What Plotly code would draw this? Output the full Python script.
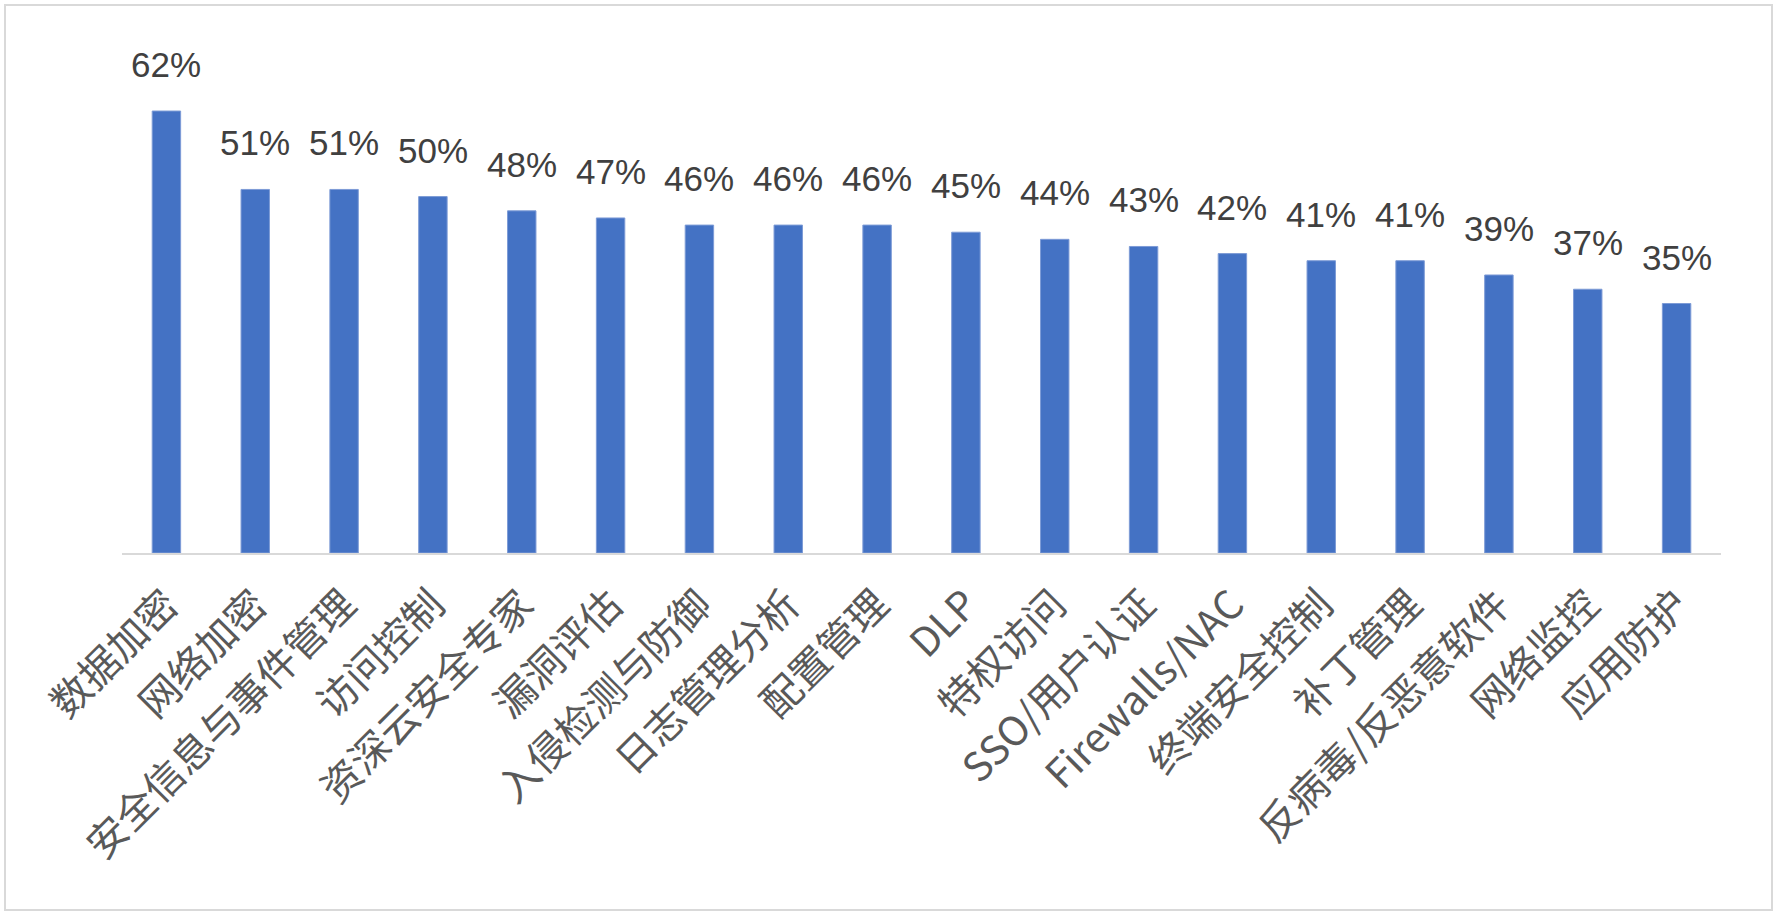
import plotly.graph_objects as go

categories = ["数据加密", "网络加密", "安全信息与事件管理", "访问控制", "资深云安全专家",
              "漏洞评估", "入侵检测与防御", "日志管理分析", "配置管理", "DLP", "特权访问",
              "SSO/用户认证", "Firewalls/NAC", "终端安全控制", "补丁管理",
              "反病毒/反恶意软件", "网络监控", "应用防护"]
values = [62, 51, 51, 50, 48, 47, 46, 46, 46, 45, 44, 43, 42, 41, 41, 39, 37, 35]
value_labels = [f"{v}%" for v in values]

W, H = 1778, 916
L, R, T, B = 122, 57, 54, 363
pw, ph = W - L - R, H - T - B

fig = go.Figure()
fig.add_trace(go.Bar(
    x=categories, y=values,
    marker=dict(color="#4472C4", line=dict(color="#7d9bd6", width=1)),
    width=0.32, hoverinfo="skip",
))

for c, v, t in zip(categories, values, value_labels):
    fig.add_annotation(x=c, y=v, text=t, showarrow=False, yanchor="bottom",
                       yshift=25,
                       font=dict(family="Liberation Sans Narrow, Arial Narrow, Liberation Sans",
                                 size=35, color="#404040"))

# outer border
def px_x(p):
    return (p - L) / pw
def px_y(p):
    return (H - B - p) / ph

fig.add_shape(type="rect", xref="paper", yref="paper",
              x0=px_x(5), x1=px_x(1772), y0=px_y(910), y1=px_y(5),
              line=dict(color="#d9d9d9", width=2), fillcolor="rgba(0,0,0,0)", layer="below")

fig.update_layout(
    width=W, height=H,
    margin=dict(l=L, r=R, t=T, b=B, pad=0),
    paper_bgcolor="white", plot_bgcolor="white",
    showlegend=False,
    xaxis=dict(tickangle=-45, showline=True, linecolor="#d9d9d9", linewidth=2,
               showgrid=False, ticks="outside", ticklen=10, tickcolor="rgba(0,0,0,0)",
               tickfont=dict(family="Noto Sans CJK SC, Liberation Sans", size=40, color="#595959"),
               range=[-0.5, len(categories) - 0.5], fixedrange=True),
    yaxis=dict(range=[0, 70], visible=False, showgrid=False, fixedrange=True),
)

fig.write_html("out.html", config={"displayModeBar": False},
               post_script="document.body.style.margin='0px';")
